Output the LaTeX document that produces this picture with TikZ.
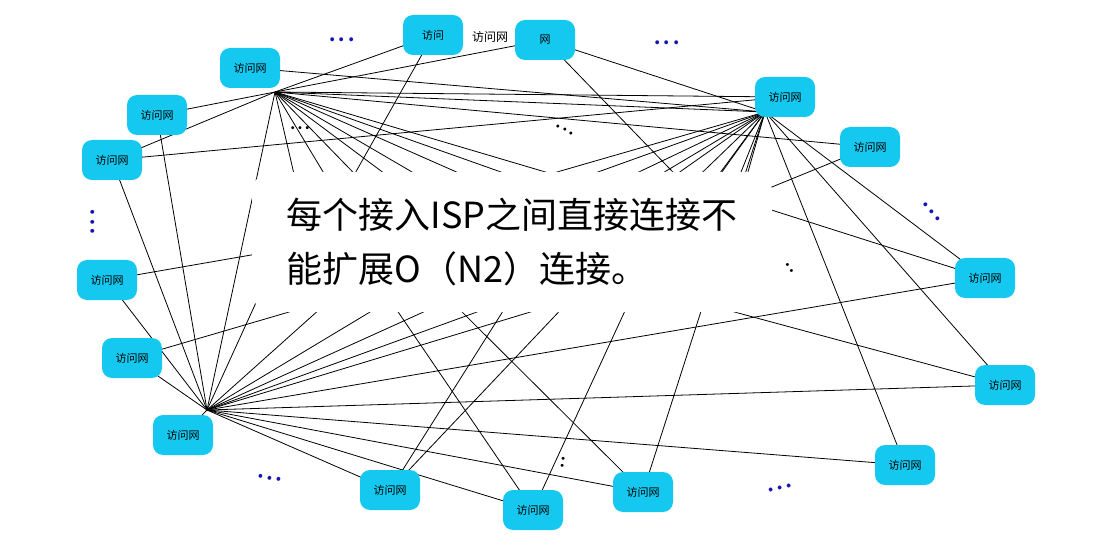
\documentclass[tikz,border=0pt]{standalone}
\usepackage{fontspec}
\setmainfont{Noto Sans CJK SC}
\definecolor{netcyan}{RGB}{20,200,240}
\definecolor{dotblue}{RGB}{20,20,180}
\begin{document}
\begin{tikzpicture}[x=1pt, y=-1pt]
    \tikzset{net/.style={rectangle, fill=netcyan, rounded corners=10pt, minimum width=60pt, minimum height=40pt, font=\fontsize{11}{12}\selectfont, inner sep=1pt}}
    \tikzset{link/.style={draw, line width=0.8pt}}
    \tikzset{bdots/.style={text=dotblue, inner sep=0pt, font=\fontsize{18}{18}\selectfont\bfseries}}
    \tikzset{kdots/.style={text=black, inner sep=0pt, font=\fontsize{14}{14}\selectfont\bfseries}}
    \useasboundingbox (0,0) rectangle (1106,556);

    % hubs
    \coordinate (h1) at (275,92);
    \coordinate (h2) at (765,112);
    \coordinate (h3) at (207,410);

    % access nets
    \coordinate (a1) at (250,68);
    \coordinate (a2) at (157,115);
    \coordinate (a3) at (112,160);
    \coordinate (a4) at (107,280);
    \coordinate (a5) at (132,358);
    \coordinate (a6) at (183,435);
    \coordinate (a7) at (390,490);
    \coordinate (a8) at (533,510);
    \coordinate (a9) at (643,492);
    \coordinate (a10) at (905,465);
    \coordinate (a11) at (1005,385);
    \coordinate (a12) at (985,278);
    \coordinate (a13) at (870,147);
    \coordinate (a14) at (785,97);
    \coordinate (t1) at (433,35);
    \coordinate (t2) at (545,40);

    % points hidden behind the text box
    \foreach \n/\x/\y in {c1/300/200, c2/340/200, c3/380/200, c4/420/200, c5/460/200, c6/520/200,
                          c7/580/200, c8/640/200, c9/700/200, c10/740/200, c11/330/300, c12/390/300,
                          c13/450/300, c14/510/300, c15/570/300, c16/630/300, c17/690/300, c18/280/250}
        \coordinate (\n) at (\x,\y);

    % links
    \foreach \t in {a2, a3, a14, a13, h2, h3, t1, t2, c1, c2, c3, c4, c5, c6, c7, c8}
        \draw [link] (h1) -- (\t);
    \foreach \t in {a1, a12, a11, a10, a9, t2, c5, c6, c7, c8, c9, c10, c17, c16, c15, c13}
        \draw [link] (h2) -- (\t);
    \foreach \t in {a4, a5, a6, a7, a8, a9, a10, a11, a12, a2, a3, c11, c12, c13, c14, c15, c18}
        \draw [link] (h3) -- (\t);
    \draw [link] (a3) -- (a14);
    \draw [link] (a4) -- (c18);
    \draw [link] (a5) -- (c11);
    \draw [link] (a7) -- (c14);
    \draw [link] (a8) -- (c12);
    \draw [link] (a9) -- (c13);
    \draw [link] (a8) -- (c16);
    \draw [link] (a7) -- (c15);
    \draw [link] (a13) -- (c10);
    \draw [link] (a12) -- (c10);
    \draw [link] (a11) -- (c17);
    \draw [link] (t1) -- (c2);
    \draw [link] (t2) -- (c9);

    % text box
    \node [fill=white, rounded corners=20pt, minimum width=520pt, minimum height=140pt, align=left,
           font=\fontsize{36}{54}\selectfont] (txt) at (512,242)
        {每个接入ISP之间直接连接不\\能扩展O（N2）连接。};

    % access network nodes
    \foreach \n in {a1, a2, a3, a4, a5, a6, a7, a8, a9, a10, a11, a12, a13, a14}
        \node [net] (\n-n) at (\n) {访问网};
    \node [net] (t1-n) at (t1) {访问};
    \node [net] (t2-n) at (t2) {网};
    \node [font=\fontsize{12}{12}\selectfont] (tmid) at (490,37) {访问网};

    % dots
    \node [bdots] (d1) at (342,40) {.\,.\,.};
    \node [bdots] (d2) at (667,43) {.\,.\,.};
    \node [bdots, rotate=-50] (d3) at (932,212) {.\,.\,.};
    \node [bdots, rotate=90] (d4) at (93,222) {.\,.\,.};
    \node [bdots, rotate=-10] (d5) at (270,478) {.\,.\,.};
    \node [bdots, rotate=15] (d6) at (780,488) {.\,.\,.};
    \node [kdots] (d7) at (300,128) {.\,.\,.};
    \node [kdots, rotate=-30] (d8) at (565,130) {.\,.\,.};
    \node [kdots, rotate=-60] (d9) at (790,268) {.\,.};
    \node [kdots, rotate=80] (d10) at (563,462) {.\,.};
\end{tikzpicture}
\end{document}
